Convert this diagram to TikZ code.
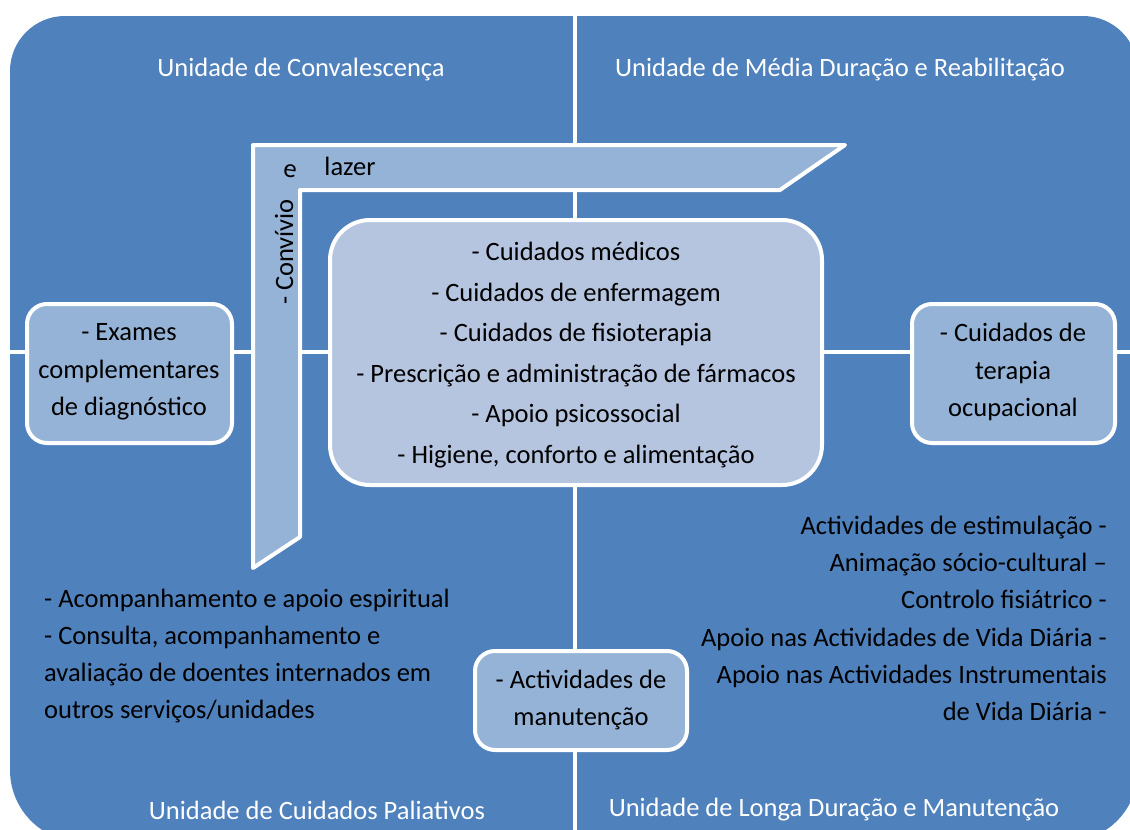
\documentclass[tikz,border=0pt]{standalone}
\usepackage{fontspec}
\setmainfont{Carlito}
\definecolor{qblue}{HTML}{4F81BD}
\definecolor{lblue}{HTML}{95B3D7}
\definecolor{cblue}{HTML}{B5C4DF}
\begin{document}
\begin{tikzpicture}[x=1pt,y=-1pt,
  box/.style={draw=white, line width=4pt, fill=lblue, rounded corners=20pt, inner sep=0pt},
  txt/.style={text=black, inner sep=0pt, font=\fontsize{26.5}{37.3}\selectfont},
  ctxt/.style={text=black, inner sep=0pt, font=\fontsize{26.5}{40.6}\selectfont},
  title/.style={text=white, inner sep=0pt, font=\fontsize{26.5}{32}\selectfont},
  divider/.style={draw=white, line width=4.5pt}]
\useasboundingbox (0,0) rectangle (1130,830);
\fill[white] (0,0) rectangle (1130,830);
\begin{scope}
\clip (0,0) rectangle (1130,830);
\fill[qblue] (10,400) [rounded corners=55pt] -- (10,16) -- (1138,16) -- (1138,400)
  [rounded corners=72pt] -- (1138,842) -- (10,842) -- (10,400) -- cycle;
\coordinate (vtop) at (575,0);
\coordinate (vbot) at (575,830);
\coordinate (hleft) at (0,352);
\coordinate (hright) at (1130,352);
\draw[divider] (vtop) -- (vbot);
\draw[divider] (hleft) -- (hright);
\end{scope}
% titles
\node[title] (t1) at (301,70) {Unidade de Convalescença};
\node[title] (t2) at (840,70) {Unidade de Média Duração e Reabilitação};
\node[title] (t3) at (317,810) {Unidade de Cuidados Paliativos};
\node[title] (t4) at (834,810) {Unidade de Longa Duração e Manutenção};
% L-shaped band
\draw[white, line width=4pt, fill=lblue, line join=round]
  (253,145) -- (845,145) -- (780,190) -- (300,190) -- (300,537) -- (253,568) -- cycle;
\node[txt, rotate=-8] (e) at (290,171) {e};
\node[txt] (lazer) at (350,166) {lazer};
\node[txt, rotate=90] (conv) at (284,252) {- Convívio};
% central box
\node[box, fill=cblue, rounded corners=40pt, minimum width=492pt, minimum height=265pt] (care) at (576,352.5) {};
\node[ctxt, align=center] (caretxt) at (576,355) {- Cuidados médicos\\- Cuidados de enfermagem\\- Cuidados de fisioterapia\\- Prescrição e administração de fármacos\\- Apoio psicossocial\\- Higiene, conforto e alimentação};
% side boxes
\node[box, minimum width=205pt, minimum height=139pt] (exam) at (129.5,373.5) {};
\node[txt, align=center] (examtxt) at (129,372) {- Exames\\complementares\\de diagnóstico};
\node[box, minimum width=203pt, minimum height=139pt] (ocup) at (1013.5,373.5) {};
\node[txt, align=center] (ocuptxt) at (1013,372) {- Cuidados de\\terapia\\ocupacional};
\node[box, minimum width=212pt, minimum height=99pt] (manut) at (581,700.5) {};
\node[txt, align=center] (manuttxt) at (581,700) {- Actividades de\\manutenção};
% free texts
\node[txt, align=left, anchor=west] (pal) at (44,656) {- Acompanhamento e apoio espiritual\\- Consulta, acompanhamento e\\avaliação de doentes internados em\\outros serviços/unidades};
\node[txt, align=right, anchor=east] (longa) at (1107,618.5) {Actividades de estimulação -\\Animação sócio-cultural –\\Controlo fisiátrico -\\Apoio nas Actividades de Vida Diária -\\Apoio nas Actividades Instrumentais\\de Vida Diária -};
\end{tikzpicture}
\end{document}
